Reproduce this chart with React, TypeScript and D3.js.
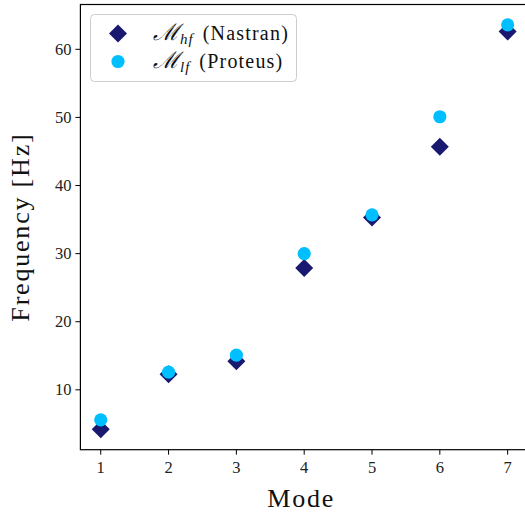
import React from "react";
import * as d3 from "d3";

const modes = [1, 2, 3, 4, 5, 6, 7];
const nastran = [4.2, 12.3, 14.2, 27.9, 35.3, 45.7, 62.6];
const proteus = [5.6, 12.6, 15.1, 30.0, 35.7, 50.1, 63.6];
const yTicks = [10, 20, 30, 40, 50, 60];

const W = 525, H = 515;
const left = 80.4, right = 528, top = 4.5, bottom = 449.7;
const FONT = "'Liberation Serif', 'DejaVu Serif', serif";

export default function App() {
  const x = d3.scaleLinear().domain([0.7, 7.3]).range([left, right]);
  const y = d3.scaleLinear().domain([1.21, 66.58]).range([bottom, top]);
  const diamond = (cx: number, cy: number, r: number) =>
    `M${cx},${cy - r}L${cx + r},${cy}L${cx},${cy + r}L${cx - r},${cy}Z`;
  return (
    <svg width={W} height={H} style={{ position: "absolute", left: 0, top: 0, background: "#fff" }}>
      <rect width={W} height={H} fill="#fff" />
      {modes.map((m) => (
        <g key={"xt" + m}>
          <line x1={x(m)} x2={x(m)} y1={bottom} y2={bottom + 5} stroke="#000" strokeWidth={1} />
          <text x={x(m)} y={bottom + 23} textAnchor="middle" fontFamily={FONT} fontSize={16.5} fill="#222">{m}</text>
        </g>
      ))}
      {yTicks.map((t) => (
        <g key={"yt" + t}>
          <line x1={left - 5} x2={left} y1={y(t)} y2={y(t)} stroke="#000" strokeWidth={1} />
          <text x={left - 9} y={y(t) + 5.5} textAnchor="end" fontFamily={FONT} fontSize={16.5} fill="#222">{t}</text>
        </g>
      ))}
      {modes.map((m, i) => (
        <path key={"n" + m} d={diamond(x(m), y(nastran[i]), 9)} fill="#191970" />
      ))}
      {modes.map((m, i) => (
        <circle key={"p" + m} cx={x(m)} cy={y(proteus[i])} r={6.6} fill="#00BFFF" />
      ))}
      <rect x={left} y={top} width={right - left} height={bottom - top} fill="none" stroke="#000" strokeWidth={1.2} />
      <rect x={90.5} y={14.5} width={206} height={67} rx={4} fill="#fff" fillOpacity={0.8} stroke="#cccccc" strokeWidth={1} />
      <path d={diamond(118, 33.5, 9)} fill="#191970" />
      <circle cx={118} cy={61.5} r={6.6} fill="#00BFFF" />
      <text x={153} y={40} fontFamily={FONT} fontSize={20} fill="#111">
        <tspan fontStyle="italic" fontFamily="'DejaVu Serif', serif" fontSize={23}>ℳ</tspan>
        <tspan fontStyle="italic" fontSize={15} dy={4} letterSpacing={1}>hf</tspan>
        <tspan dy={-4} dx={9} letterSpacing={1.2}>(Nastran)</tspan>
      </text>
      <text x={153} y={68} fontFamily={FONT} fontSize={20} fill="#111">
        <tspan fontStyle="italic" fontFamily="'DejaVu Serif', serif" fontSize={23}>ℳ</tspan>
        <tspan fontStyle="italic" fontSize={15} dy={4} letterSpacing={1}>lf</tspan>
        <tspan dy={-4} dx={9} letterSpacing={1.2}>(Proteus)</tspan>
      </text>
      <text x={(left + right) / 2 - 3} y={507} textAnchor="middle" fontFamily={FONT} fontSize={26} letterSpacing={1.8} fill="#111">Mode</text>
      <text transform={`translate(29,${(top + bottom) / 2}) rotate(-90)`} textAnchor="middle" fontFamily={FONT} fontSize={26} letterSpacing={1.8} fill="#111">Frequency [Hz]</text>
    </svg>
  );
}
